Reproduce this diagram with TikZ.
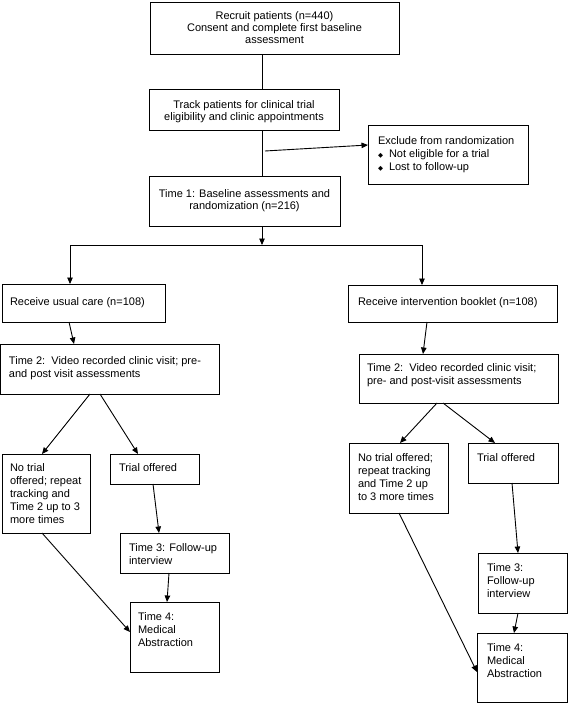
\documentclass[tikz,border=0pt]{standalone}
\usepackage{fontspec}
\setmainfont{Liberation Sans}
\newfontfamily\dv{DejaVu Sans}
\usetikzlibrary{arrows.meta,fit,calc}
\tikzset{
  box/.style={draw, line width=1pt, inner sep=0pt, outer sep=0pt},
  txt/.style={inner sep=0pt, outer sep=0pt, align=left, anchor=north west, font=\fontsize{11}{13}\selectfont},
  txtc/.style={inner sep=0pt, outer sep=0pt, align=center, font=\fontsize{11}{12}\selectfont},
  con/.style={line width=0.9pt},
  arr/.style={line width=0.9pt, -{Triangle[length=6.5pt,width=5.5pt]}}
}
\newcommand\bx[5]{\node[box, fit={(#2,#3) (#4,#5)}] (#1) {};}
\newcommand\bul{\makebox[11pt][l]{\raisebox{0.8pt}{\dv\fontsize{6.5}{6.5}\selectfont ◆}}}
\begin{document}
\begin{tikzpicture}[x=1pt,y=-1pt]
\useasboundingbox (0,0) rectangle (568,703);
% top boxes
\bx{b1}{150}{3}{399}{55}
\bx{b2}{149}{90}{339}{131}
\bx{b3}{149}{177}{340}{226}
\bx{excl}{368}{126}{528}{185}
\node[txtc] (b1t) at ([yshift=1.5pt]b1.center) {Recruit patients (n=440)\\Consent and complete first baseline\\assessment};
\node[txtc] (b2t) at ([yshift=-1pt]b2.center) {Track patients for clinical trial\\eligibility and clinic appointments};
\node[txtc] (b3t) at ([yshift=1pt]b3.center) {Time 1: Baseline assessments and\\randomization (n=216)};
\node[txt] (exclt) at ($(excl.north west)+(10,11)$) {Exclude from randomization\\\bul Not eligible for a trial\\\bul Lost to follow-up};
% second row
\bx{care}{2}{284}{165}{322}
\bx{book}{348}{285}{557}{322}
\node[txt] (caret) at ($(care.north west)+(8,14)$) {Receive usual care (n=108)};
\node[txt] (bookt) at ($(book.north west)+(10,13)$) {Receive intervention booklet (n=108)};
% left branch
\bx{t2l}{0}{344}{219}{394}
\bx{nol}{2}{454}{90}{533}
\bx{tol}{110}{454}{199}{484}
\bx{t3l}{120}{533}{229}{573}
\bx{t4l}{130}{602}{219}{672}
\node[txt] (t2lt) at ($(t2l.north west)+(9,13)$) {Time 2:\ \ Video recorded clinic visit; pre-\\and post visit assessments};
\node[txt] (nolt) at ($(nol.north west)+(8,10)$) {No trial\\offered; repeat\\tracking and\\Time 2 up to 3\\more times};
\node[txt] (tolt) at ($(tol.north west)+(9,10)$) {Trial offered};
\node[txt] (t3lt) at ($(t3l.north west)+(9,11)$) {Time 3: Follow-up\\interview};
\node[txt] (t4lt) at ($(t4l.north west)+(8,11)$) {Time 4:\\Medical\\Abstraction};
% right branch
\bx{t2r}{359}{354}{558}{403}
\bx{nor}{349}{443}{448}{513}
\bx{tor}{468}{443}{558}{483}
\bx{t3r}{478}{553}{567}{613}
\bx{t4r}{477}{633}{567}{702}
\node[txt] (t2rt) at ($(t2r.north west)+(8,10)$) {Time 2:\ \ Video recorded clinic visit;\\pre- and post-visit assessments};
\node[txt] (nort) at ($(nor.north west)+(9,11)$) {No trial offered;\\repeat tracking\\and Time 2 up\\to 3 more times};
\node[txt] (tort) at ($(tor.north west)+(9,11)$) {Trial offered};
\node[txt] (t3rt) at ($(t3r.north west)+(9,11)$) {Time 3:\\Follow-up\\interview};
\node[txt] (t4rt) at ($(t4r.north west)+(10,11)$) {Time 4:\\Medical\\Abstraction};
% connectors top
\draw[con] ($(b1.south west)+(112,0)$) -- ($(b2.north west)+(113,0)$);
\draw[con] ($(b2.south west)+(113,0)$) -- ($(b3.north west)+(113,0)$);
\draw[arr] ($(b2.south west)+(116,20)$) -- ($(excl.north west)+(0,19)$);
\draw[arr] ($(b3.south west)+(113,0)$) -- ++(0,19) coordinate (j);
\draw[arr] (j) -| ($(care.north west)+(68,0)$);
\draw[arr] (j) -| ($(book.north west)+(74,0)$);
% left connectors
\draw[arr] ($(care.south west)+(67,0)$) -- ($(t2l.north west)+(74,0)$);
\draw[arr] ($(t2l.south west)+(90,0)$) -- ($(nol.north west)+(40,0)$);
\draw[arr] ($(t2l.south west)+(100,0)$) -- ($(tol.north west)+(28,0)$);
\draw[arr] ($(tol.south west)+(43,0)$) -- ($(t3l.north west)+(39,0)$);
\draw[arr] ($(t3l.south west)+(49,0)$) -- ($(t4l.north west)+(37,0)$);
\draw[arr] ($(nol.south west)+(40,0)$) -- ($(t4l.north west)+(0,30)$);
% right connectors
\draw[arr] ($(book.south west)+(79,0)$) -- ($(t2r.north west)+(64,0)$);
\draw[arr] ($(t2r.south west)+(78,0)$) -- ($(nor.north west)+(51,0)$);
\draw[arr] ($(t2r.south west)+(84,0)$) -- ($(tor.north west)+(27,0)$);
\draw[arr] ($(tor.south west)+(44,0)$) -- ($(t3r.north west)+(40,0)$);
\draw[arr] ($(t3r.south west)+(40,0)$) -- ($(t4r.north west)+(37,0)$);
\draw[arr] ($(nor.south west)+(50,0)$) -- ($(t4r.north west)+(0,39)$);
\end{tikzpicture}
\end{document}
